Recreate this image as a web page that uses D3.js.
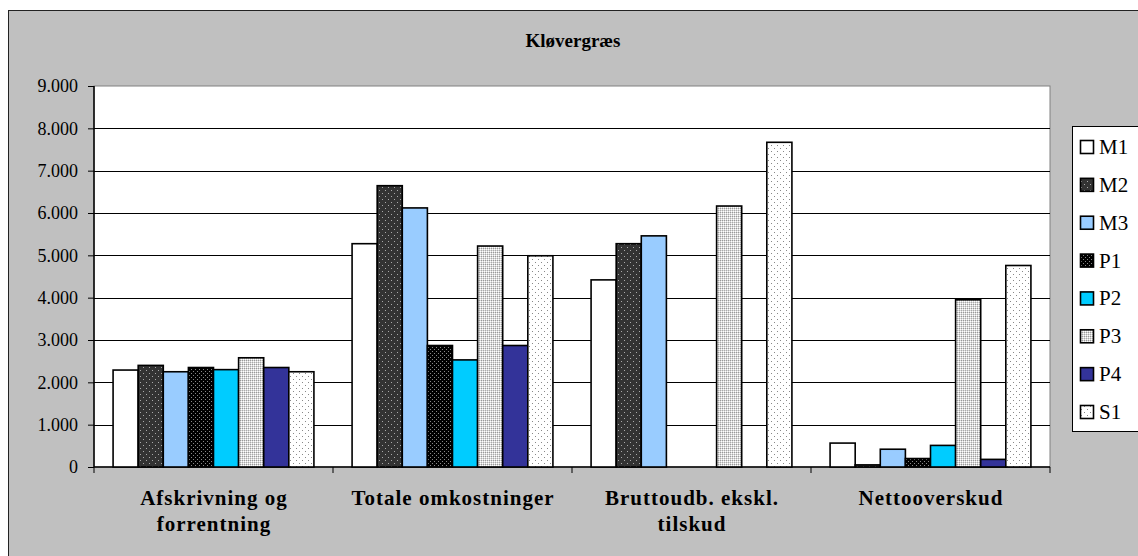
<!DOCTYPE html>
<html><head><meta charset="utf-8">
<script src="https://cdn.jsdelivr.net/npm/d3@7"></script>
<style>body{margin:0;background:#fff}svg{display:block}svg text{font-family:"Liberation Serif","Times New Roman",serif}</style>
</head><body>
<svg id="c" width="1138" height="556"></svg>
<script>
const categories = [["Afskrivning og","forrentning"],["Totale omkostninger"],["Bruttoudb. ekskl.","tilskud"],["Nettooverskud"]];
const seriesNames = ["M1","M2","M3","P1","P2","P3","P4","S1"];
const M1 = [2290, 5275, 4420, 565];
const M2 = [2400, 6645, 5275, 50];
const M3 = [2250, 6120, 5460, 420];
const P1 = [2350, 2870, null, 200];
const P2 = [2300, 2530, null, 510];
const P3 = [2580, 5220, 6165, 3950];
const P4 = [2350, 2870, null, 180];
const S1 = [2250, 4990, 7670, 4760];
const seriesValues = [M1,M2,M3,P1,P2,P3,P4,S1];
const yTicks = [0,1000,2000,3000,4000,5000,6000,7000,8000,9000];
const yTickLabels = ["0","1.000","2.000","3.000","4.000","5.000","6.000","7.000","8.000","9.000"];
const title = "Kløvergræs";

const FONT = '"Liberation Serif","Times New Roman",serif';
const svg = d3.select("#c");
const defs = svg.append("defs");
function pat(id, bg, dots, size){
  const p = defs.append("pattern").attr("id",id).attr("patternUnits","userSpaceOnUse").attr("width",size[0]).attr("height",size[1]);
  p.append("rect").attr("width",size[0]).attr("height",size[1]).attr("fill",bg);
  dots.forEach(d=>p.append("rect").attr("x",d[0]).attr("y",d[1]).attr("width",1).attr("height",1).attr("fill",d[2]));
}
pat("pM2","#333333",[[1,1,"#aaa"],[4,4,"#aaa"]],[6,6]);
pat("pP1","#000000",[[1,1,"#888"],[3,3,"#888"]],[4,4]);
pat("pP3","#d8d8d8",[[0,0,"#999"],[1,1,"#fff"],[2,0,"#999"],[3,1,"#fff"],[0,2,"#aaa"],[2,2,"#aaa"],[1,3,"#fff"],[3,3,"#fff"]],[4,4]);
pat("pS1","#ffffff",[[1,1,"#888"],[4,4,"#888"]],[6,6]);
const fills = ["#ffffff","url(#pM2)","#99ccff","url(#pP1)","#00ccff","url(#pP3)","#333399","url(#pS1)"];

// chart area
svg.append("rect").attr("x",8.5).attr("y",10.5).attr("width",1140).attr("height",560).attr("fill","#c0c0c0").attr("stroke","#222").attr("stroke-width",1);

const L=94, T=86, R=1050, B=467;
svg.append("rect").attr("x",L).attr("y",T).attr("width",R-L).attr("height",B-T).attr("fill","#fff").attr("stroke","#808080").attr("stroke-width",1);

const x0 = d3.scaleBand().domain(d3.range(categories.length)).range([L,R]).paddingInner(0).paddingOuter(0);
const x1 = d3.scaleBand().domain(seriesNames).range([0,x0.bandwidth()]).paddingInner(0).paddingOuter(0.76);
const y = d3.scaleLinear().domain([0,9000]).range([B,T]);

// gridlines
svg.append("g").selectAll("line").data(yTicks.slice(1,-1)).join("line")
  .attr("x1",L).attr("x2",R).attr("y1",d=>Math.round(y(d))+0.5).attr("y2",d=>Math.round(y(d))+0.5)
  .attr("stroke","#000").attr("stroke-width",1);

// y axis
const yAxis = d3.axisLeft(y).tickValues(yTicks).tickFormat((d,i)=>yTickLabels[i]).tickSize(6).tickPadding(10);
const gy = svg.append("g").attr("transform",`translate(${L},0)`).call(yAxis);
gy.attr("font-family",null).attr("font-size",null);
gy.select(".domain").attr("stroke","#000").attr("stroke-width",1.5).attr("d",`M0,${T}V${B}`);
gy.selectAll(".tick line").attr("stroke","#000");
gy.selectAll(".tick text").style("font-family",FONT).style("font-size","18px").attr("fill","#000");

// x axis
const gx = svg.append("g").attr("transform",`translate(0,${B})`);
gx.append("line").attr("x1",L).attr("x2",R).attr("y1",0).attr("y2",0).attr("stroke","#000").attr("stroke-width",1.5);
gx.selectAll("line.t").data(d3.range(categories.length+1)).join("line").attr("class","t")
  .attr("x1",i=>i<categories.length? x0(i): R).attr("x2",i=>i<categories.length? x0(i): R)
  .attr("y1",0).attr("y2",6).attr("stroke","#000");

// bars
const groups = svg.append("g").selectAll("g").data(categories).join("g").attr("transform",(d,i)=>`translate(${x0(i)},0)`);
groups.selectAll("rect").data((d,i)=>seriesNames.map((s,k)=>({s,k,v:seriesValues[k][i]})).filter(e=>e.v!=null)).join("rect")
  .attr("x",e=>x1(e.s)).attr("width",x1.bandwidth())
  .attr("y",e=>y(e.v)).attr("height",e=>B-y(e.v))
  .attr("fill",e=>fills[e.k]).attr("stroke","#000").attr("stroke-width",1.6);

// category labels
const lab = svg.append("g");
categories.forEach((lines,i)=>{
  lines.forEach((t,j)=>{
    lab.append("text").attr("x",x0(i)+x0.bandwidth()/2+0.5).attr("y",505+j*26).attr("text-anchor","middle")
      .style("font-family",FONT).style("font-weight","bold").style("font-size","21px")
      .style("letter-spacing","1px").text(t);
  });
});

// title
svg.append("text").attr("x",573).attr("y",47).attr("text-anchor","middle")
  .style("font-family",FONT).style("font-weight","bold").style("font-size","19px").text(title);

// legend
const lg = svg.append("g");
lg.append("rect").attr("x",1072.5).attr("y",126.5).attr("width",80).attr("height",305).attr("fill","#fff").attr("stroke","#000").attr("stroke-width",1);
const ly = d3.scalePoint().domain(seriesNames).range([147,412]);
seriesNames.forEach((s,k)=>{
  lg.append("rect").attr("x",1080.5).attr("y",ly(s)-6.5).attr("width",13).attr("height",13).attr("fill",fills[k]).attr("stroke","#000").attr("stroke-width",1.6);
  lg.append("text").attr("x",1099).attr("y",ly(s)+7).style("font-family",FONT).style("font-size","21px").text(s);
});
</script>
</body></html>
